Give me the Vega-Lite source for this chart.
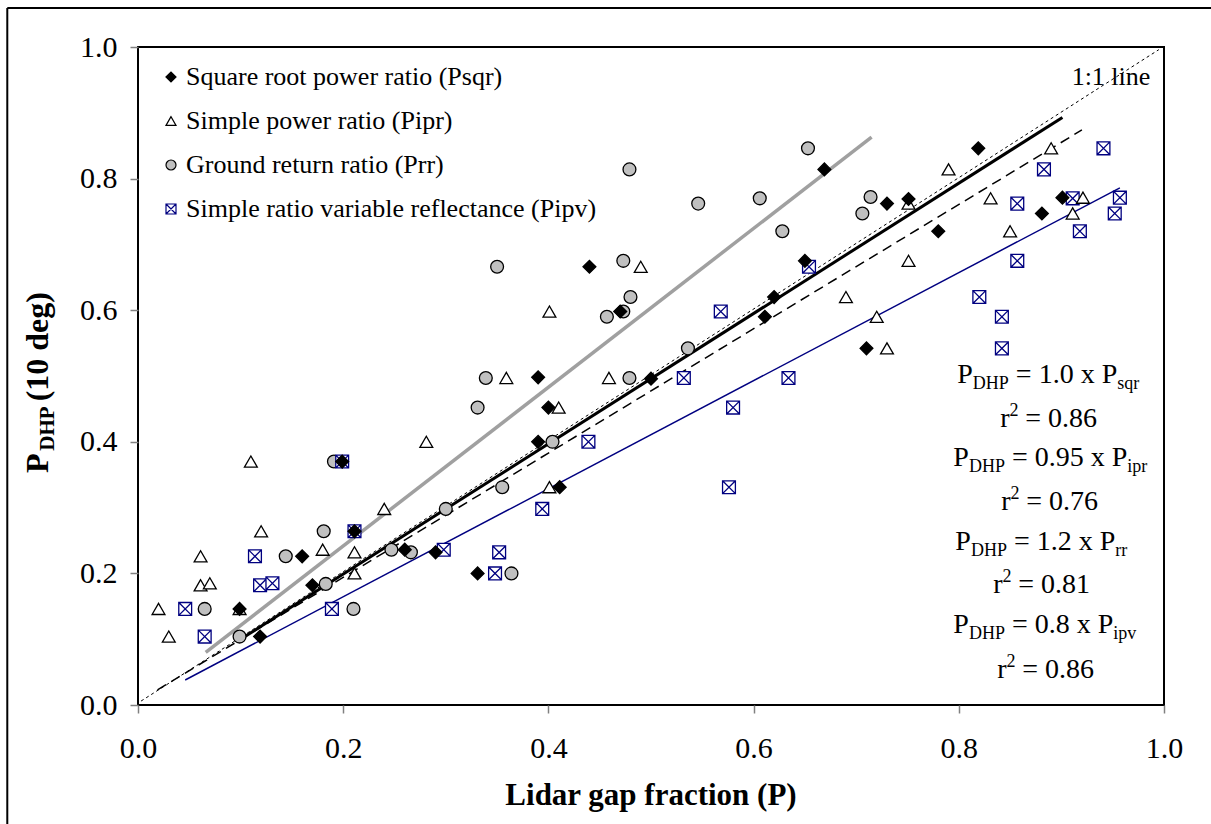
{
  "$schema": "https://vega.github.io/schema/vega-lite/v6.json",
  "width": 1026,
  "height": 658,
  "autosize": {"type": "none"},
  "padding": {"left": 138, "top": 47, "right": 47, "bottom": 119},
  "background": "white",
  "config": {
    "font": "Liberation Serif",
    "view": {"stroke": "#000000", "strokeWidth": 2},
    "axis": {"grid": false, "domain": false, "labelFont": "Liberation Serif", "labelFontSize": 30, "labelColor": "#000000", "tickColor": "#808080", "tickWidth": 1.5, "tickSize": 8, "labelFlush": false, "labelOverlap": false},
    "axisX": {"labelPadding": 20},
    "axisY": {"labelPadding": 13}
  },
  "datasets": {
    "points": [
      {"s":"Prr","x":0.191,"y":0.370},{"s":"Prr","x":0.181,"y":0.264},{"s":"Prr","x":0.144,"y":0.226},{"s":"Prr","x":0.065,"y":0.146},{"s":"Prr","x":0.099,"y":0.104},{"s":"Prr","x":0.183,"y":0.184},{"s":"Prr","x":0.210,"y":0.146},{"s":"Prr","x":0.247,"y":0.236},{"s":"Prr","x":0.266,"y":0.232},{"s":"Prr","x":0.479,"y":0.814},{"s":"Prr","x":0.350,"y":0.666},{"s":"Prr","x":0.473,"y":0.675},{"s":"Prr","x":0.480,"y":0.620},{"s":"Prr","x":0.457,"y":0.590},{"s":"Prr","x":0.473,"y":0.598},{"s":"Prr","x":0.339,"y":0.497},{"s":"Prr","x":0.479,"y":0.497},{"s":"Prr","x":0.331,"y":0.452},{"s":"Prr","x":0.404,"y":0.400},{"s":"Prr","x":0.355,"y":0.331},{"s":"Prr","x":0.300,"y":0.298},{"s":"Prr","x":0.364,"y":0.200},{"s":"Prr","x":0.536,"y":0.542},{"s":"Prr","x":0.546,"y":0.762},{"s":"Prr","x":0.653,"y":0.846},{"s":"Prr","x":0.606,"y":0.770},{"s":"Prr","x":0.628,"y":0.720},{"s":"Prr","x":0.714,"y":0.772},{"s":"Prr","x":0.706,"y":0.747},
      {"s":"Pipv","x":0.199,"y":0.370},{"s":"Pipv","x":0.211,"y":0.264},{"s":"Pipv","x":0.114,"y":0.226},{"s":"Pipv","x":0.119,"y":0.182},{"s":"Pipv","x":0.131,"y":0.185},{"s":"Pipv","x":0.046,"y":0.146},{"s":"Pipv","x":0.065,"y":0.104},{"s":"Pipv","x":0.189,"y":0.146},{"s":"Pipv","x":0.298,"y":0.236},{"s":"Pipv","x":0.352,"y":0.232},{"s":"Pipv","x":0.348,"y":0.200},{"s":"Pipv","x":0.394,"y":0.298},{"s":"Pipv","x":0.439,"y":0.400},{"s":"Pipv","x":0.532,"y":0.497},{"s":"Pipv","x":0.568,"y":0.598},{"s":"Pipv","x":0.654,"y":0.666},{"s":"Pipv","x":0.634,"y":0.497},{"s":"Pipv","x":0.580,"y":0.452},{"s":"Pipv","x":0.576,"y":0.331},{"s":"Pipv","x":0.941,"y":0.846},{"s":"Pipv","x":0.883,"y":0.814},{"s":"Pipv","x":0.857,"y":0.762},{"s":"Pipv","x":0.911,"y":0.770},{"s":"Pipv","x":0.957,"y":0.771},{"s":"Pipv","x":0.952,"y":0.747},{"s":"Pipv","x":0.918,"y":0.720},{"s":"Pipv","x":0.857,"y":0.675},{"s":"Pipv","x":0.820,"y":0.620},{"s":"Pipv","x":0.842,"y":0.590},{"s":"Pipv","x":0.842,"y":0.542},
      {"s":"Pipr","x":0.110,"y":0.370},{"s":"Pipr","x":0.120,"y":0.264},{"s":"Pipr","x":0.061,"y":0.226},{"s":"Pipr","x":0.061,"y":0.182},{"s":"Pipr","x":0.070,"y":0.185},{"s":"Pipr","x":0.020,"y":0.146},{"s":"Pipr","x":0.030,"y":0.104},{"s":"Pipr","x":0.099,"y":0.146},{"s":"Pipr","x":0.180,"y":0.236},{"s":"Pipr","x":0.211,"y":0.232},{"s":"Pipr","x":0.211,"y":0.200},{"s":"Pipr","x":0.240,"y":0.298},{"s":"Pipr","x":0.281,"y":0.400},{"s":"Pipr","x":0.359,"y":0.497},{"s":"Pipr","x":0.401,"y":0.598},{"s":"Pipr","x":0.410,"y":0.452},{"s":"Pipr","x":0.401,"y":0.331},{"s":"Pipr","x":0.459,"y":0.497},{"s":"Pipr","x":0.490,"y":0.666},{"s":"Pipr","x":0.790,"y":0.814},{"s":"Pipr","x":0.751,"y":0.762},{"s":"Pipr","x":0.751,"y":0.675},{"s":"Pipr","x":0.690,"y":0.620},{"s":"Pipr","x":0.720,"y":0.590},{"s":"Pipr","x":0.730,"y":0.542},{"s":"Pipr","x":0.890,"y":0.846},{"s":"Pipr","x":0.831,"y":0.770},{"s":"Pipr","x":0.850,"y":0.720},{"s":"Pipr","x":0.921,"y":0.771},{"s":"Pipr","x":0.911,"y":0.747},
      {"s":"Psqr","x":0.099,"y":0.146},{"s":"Psqr","x":0.119,"y":0.104},{"s":"Psqr","x":0.160,"y":0.226},{"s":"Psqr","x":0.170,"y":0.182},{"s":"Psqr","x":0.199,"y":0.370},{"s":"Psqr","x":0.211,"y":0.264},{"s":"Psqr","x":0.260,"y":0.236},{"s":"Psqr","x":0.290,"y":0.232},{"s":"Psqr","x":0.331,"y":0.200},{"s":"Psqr","x":0.390,"y":0.400},{"s":"Psqr","x":0.390,"y":0.498},{"s":"Psqr","x":0.400,"y":0.452},{"s":"Psqr","x":0.411,"y":0.331},{"s":"Psqr","x":0.440,"y":0.666},{"s":"Psqr","x":0.470,"y":0.598},{"s":"Psqr","x":0.500,"y":0.496},{"s":"Psqr","x":0.611,"y":0.590},{"s":"Psqr","x":0.620,"y":0.620},{"s":"Psqr","x":0.650,"y":0.675},{"s":"Psqr","x":0.669,"y":0.814},{"s":"Psqr","x":0.710,"y":0.542},{"s":"Psqr","x":0.730,"y":0.762},{"s":"Psqr","x":0.751,"y":0.769},{"s":"Psqr","x":0.780,"y":0.720},{"s":"Psqr","x":0.819,"y":0.846},{"s":"Psqr","x":0.881,"y":0.747},{"s":"Psqr","x":0.901,"y":0.771}
    ],
    "fits": [
      {"fit":"one","x":0.003,"y":0.006},{"fit":"one","x":0.995,"y":0.996},
      {"fit":"Pipr","x":0.019,"y":0.023},{"fit":"Pipr","x":0.920,"y":0.874},
      {"fit":"Pipv","x":0.046,"y":0.038},{"fit":"Pipv","x":0.957,"y":0.786},
      {"fit":"Prr","x":0.066,"y":0.080},{"fit":"Prr","x":0.715,"y":0.863},
      {"fit":"Psqr","x":0.100,"y":0.100},{"fit":"Psqr","x":0.901,"y":0.893}
    ],
    "eqMain": [
      {"t":"P","x":0.7985,"y":0.4894},{"t":"= 1.0 x P","x":0.8556,"y":0.4894},
      {"t":"P","x":0.7946,"y":0.3632},{"t":"= 0.95 x P","x":0.8518,"y":0.3632},
      {"t":"P","x":0.7966,"y":0.2356},{"t":"= 1.2 x P","x":0.8537,"y":0.2356},
      {"t":"P","x":0.7946,"y":0.1094},{"t":"= 0.8 x P","x":0.8518,"y":0.1094},
      {"t":"r","x":0.8404,"y":0.4225},{"t":"= 0.86","x":0.8648,"y":0.4225},
      {"t":"r","x":0.8414,"y":0.2964},{"t":"= 0.76","x":0.8658,"y":0.2964},
      {"t":"r","x":0.8336,"y":0.1702},{"t":"= 0.81","x":0.8580,"y":0.1702},
      {"t":"r","x":0.8375,"y":0.0410},{"t":"= 0.86","x":0.8619,"y":0.0410}
    ],
    "note": [{"t":"1:1 line","x":0.9867,"y":0.9422}],
    "eqSub": [
      {"t":"DHP","x":0.8137,"y":0.4894},{"t":"sqr","x":0.9545,"y":0.4894},
      {"t":"DHP","x":0.8099,"y":0.3632},{"t":"ipr","x":0.9642,"y":0.3632},
      {"t":"DHP","x":0.8118,"y":0.2356},{"t":"rr","x":0.9525,"y":0.2356},
      {"t":"DHP","x":0.8099,"y":0.1094},{"t":"ipv","x":0.9506,"y":0.1094}
    ],
    "eqSup": [
      {"t":"2","x":0.8495,"y":0.4225},{"t":"2","x":0.8505,"y":0.2964},{"t":"2","x":0.8427,"y":0.1702},{"t":"2","x":0.8466,"y":0.0410}
    ],
    "yMain": [{"t":"P","x":-0.0874,"y":0.3526},{"t":"(10 deg)","x":-0.0874,"y":0.4615}],
    "ySub": [{"t":"DHP","x":-0.0874,"y":0.3864}],
    "xTitle": [{"t":"Lidar gap fraction (P)","x":0.5,"y":-0.152}]
  },
  "layer": [
    {
      "data": {"name": "fits"},
      "transform": [{"filter": "datum.fit === 'one'"}],
      "mark": {"type": "line", "color": "#000000", "strokeWidth": 1, "strokeDash": [3, 3]},
      "encoding": {
        "x": {"field": "x", "type": "quantitative", "scale": {"domain": [0, 1], "nice": false, "zero": false}, "axis": {"values": [0, 0.2, 0.4, 0.6, 0.8, 1], "format": ".1f", "title": null}},
        "y": {"field": "y", "type": "quantitative", "scale": {"domain": [0, 1], "nice": false, "zero": false}, "axis": {"values": [0, 0.2, 0.4, 0.6, 0.8, 1], "format": ".1f", "title": null}}
      }
    },
    {
      "data": {"name": "fits"},
      "transform": [{"filter": "datum.fit === 'Pipr'"}],
      "mark": {"type": "line", "color": "#000000", "strokeWidth": 1.5, "strokeDash": [10, 6]},
      "encoding": {"x": {"field": "x", "type": "quantitative"}, "y": {"field": "y", "type": "quantitative"}}
    },
    {
      "data": {"name": "fits"},
      "transform": [{"filter": "datum.fit === 'Pipv'"}],
      "mark": {"type": "line", "color": "#000080", "strokeWidth": 1.5},
      "encoding": {"x": {"field": "x", "type": "quantitative"}, "y": {"field": "y", "type": "quantitative"}}
    },
    {
      "data": {"name": "fits"},
      "transform": [{"filter": "datum.fit === 'Prr'"}],
      "mark": {"type": "line", "color": "#a0a0a0", "strokeWidth": 3.5},
      "encoding": {"x": {"field": "x", "type": "quantitative"}, "y": {"field": "y", "type": "quantitative"}}
    },
    {
      "data": {"name": "fits"},
      "transform": [{"filter": "datum.fit === 'Psqr'"}],
      "mark": {"type": "line", "color": "#000000", "strokeWidth": 3},
      "encoding": {"x": {"field": "x", "type": "quantitative"}, "y": {"field": "y", "type": "quantitative"}}
    },
    {
      "data": {"name": "points"},
      "mark": {"type": "point", "size": 165, "strokeWidth": 1.3, "opacity": 1, "fillOpacity": 1, "strokeOpacity": 1},
      "encoding": {
        "x": {"field": "x", "type": "quantitative"},
        "y": {"field": "y", "type": "quantitative"},
        "shape": {"field": "s", "type": "nominal", "title": null,
          "scale": {"domain": ["Psqr", "Pipr", "Prr", "Pipv"], "range": ["diamond", "triangle-up", "circle", "M-1,-1H1V1H-1Z M-1,-1L1,1 M-1,1L1,-1"]},
          "legend": {"orient": "none", "legendX": 20, "legendY": 17, "padding": 0, "labelFont": "Liberation Serif", "labelFontSize": 26, "labelColor": "#000000", "labelLimit": 700, "symbolSize": 100, "symbolStrokeWidth": 1.2, "rowPadding": 18, "labelOffset": 2,
            "labelExpr": "{'Psqr':'Square root power ratio (Psqr)','Pipr':'Simple power ratio (Pipr)','Prr':'Ground return ratio (Prr)','Pipv':'Simple ratio variable reflectance (Pipv)'}[datum.label]"}},
        "fill": {"field": "s", "type": "nominal", "title": null,
          "scale": {"domain": ["Psqr", "Pipr", "Prr", "Pipv"], "range": ["#000000", "#ffffff", "#c0c0c0", "#ffffff"]},
          "legend": {"orient": "none", "legendX": 20, "legendY": 17, "padding": 0, "labelFont": "Liberation Serif", "labelFontSize": 26, "labelColor": "#000000", "labelLimit": 700, "symbolSize": 100, "symbolStrokeWidth": 1.2, "rowPadding": 18, "labelOffset": 2,
            "labelExpr": "{'Psqr':'Square root power ratio (Psqr)','Pipr':'Simple power ratio (Pipr)','Prr':'Ground return ratio (Prr)','Pipv':'Simple ratio variable reflectance (Pipv)'}[datum.label]"}},
        "stroke": {"field": "s", "type": "nominal", "title": null,
          "scale": {"domain": ["Psqr", "Pipr", "Prr", "Pipv"], "range": ["#000000", "#000000", "#000000", "#000080"]},
          "legend": {"orient": "none", "legendX": 20, "legendY": 17, "padding": 0, "labelFont": "Liberation Serif", "labelFontSize": 26, "labelColor": "#000000", "labelLimit": 700, "symbolSize": 100, "symbolStrokeWidth": 1.2, "rowPadding": 18, "labelOffset": 2,
            "labelExpr": "{'Psqr':'Square root power ratio (Psqr)','Pipr':'Simple power ratio (Pipr)','Prr':'Ground return ratio (Prr)','Pipv':'Simple ratio variable reflectance (Pipv)'}[datum.label]"}}
      }
    },
    {
      "data": {"name": "eqMain"},
      "mark": {"type": "text", "font": "Liberation Serif", "fontSize": 28, "align": "left", "baseline": "alphabetic", "color": "#000000"},
      "encoding": {"x": {"field": "x", "type": "quantitative"}, "y": {"field": "y", "type": "quantitative"}, "text": {"field": "t"}}
    },
    {
      "data": {"name": "note"},
      "mark": {"type": "text", "font": "Liberation Serif", "fontSize": 26, "align": "right", "baseline": "alphabetic", "color": "#000000"},
      "encoding": {"x": {"field": "x", "type": "quantitative"}, "y": {"field": "y", "type": "quantitative"}, "text": {"field": "t"}}
    },
    {
      "data": {"name": "eqSub"},
      "mark": {"type": "text", "font": "Liberation Serif", "fontSize": 18, "align": "left", "baseline": "alphabetic", "dy": 6, "color": "#000000"},
      "encoding": {"x": {"field": "x", "type": "quantitative"}, "y": {"field": "y", "type": "quantitative"}, "text": {"field": "t"}}
    },
    {
      "data": {"name": "eqSup"},
      "mark": {"type": "text", "font": "Liberation Serif", "fontSize": 18, "align": "left", "baseline": "alphabetic", "dy": -11, "color": "#000000"},
      "encoding": {"x": {"field": "x", "type": "quantitative"}, "y": {"field": "y", "type": "quantitative"}, "text": {"field": "t"}}
    },
    {
      "data": {"name": "yMain"},
      "mark": {"type": "text", "font": "Liberation Serif", "fontSize": 32, "fontWeight": "bold", "align": "left", "baseline": "alphabetic", "angle": 270, "color": "#000000"},
      "encoding": {"x": {"field": "x", "type": "quantitative"}, "y": {"field": "y", "type": "quantitative"}, "text": {"field": "t"}}
    },
    {
      "data": {"name": "ySub"},
      "mark": {"type": "text", "font": "Liberation Serif", "fontSize": 21, "fontWeight": "bold", "align": "left", "baseline": "alphabetic", "angle": 270, "dy": 6, "color": "#000000"},
      "encoding": {"x": {"field": "x", "type": "quantitative"}, "y": {"field": "y", "type": "quantitative"}, "text": {"field": "t"}}
    },
    {
      "data": {"name": "xTitle"},
      "mark": {"type": "text", "font": "Liberation Serif", "fontSize": 31, "fontWeight": "bold", "align": "center", "baseline": "alphabetic", "color": "#000000"},
      "encoding": {"x": {"field": "x", "type": "quantitative"}, "y": {"field": "y", "type": "quantitative"}, "text": {"field": "t"}}
    },
    {
      "data": {"values": [{}]},
      "mark": {"type": "rule", "color": "#000000", "strokeWidth": 2},
      "encoding": {"x": {"datum": -0.1274, "type": "quantitative"}, "y": {"datum": -0.25, "type": "quantitative"}, "y2": {"datum": 1.0593}}
    },
    {
      "data": {"values": [{}]},
      "mark": {"type": "rule", "color": "#000000", "strokeWidth": 2},
      "encoding": {"x": {"datum": -0.1274, "type": "quantitative"}, "x2": {"datum": 1.1}, "y": {"datum": 1.0593, "type": "quantitative"}}
    }
  ]
}
